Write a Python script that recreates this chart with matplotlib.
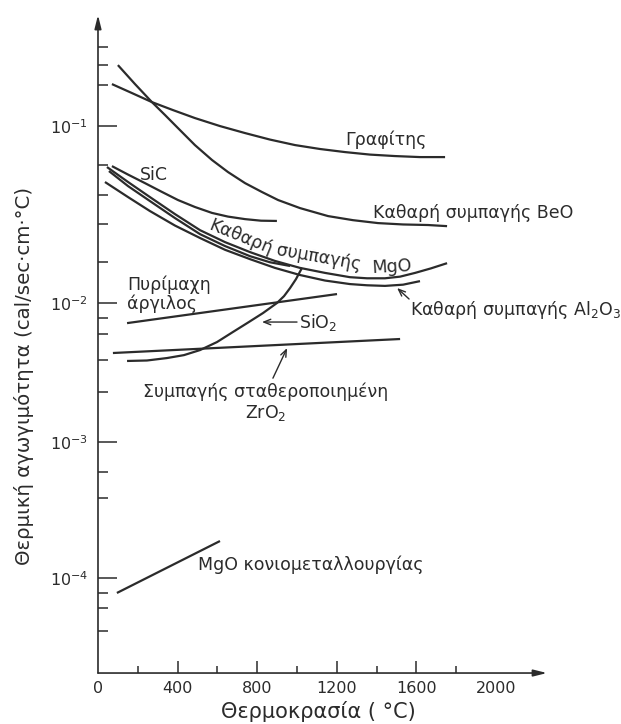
import numpy as np
import matplotlib
matplotlib.use("Agg")
import matplotlib.pyplot as plt
from matplotlib.ticker import NullFormatter

plt.rcParams["font.family"] = ["DejaVu Sans"]
plt.rcParams["mathtext.fontset"] = "dejavusans"

INK = "#2b2b2b"

# θερμοκρασία (°C) / θερμική αγωγιμότητα (cal/sec·cm·°C)
graphite_t = [70, 171, 271, 377, 487, 613, 739, 864, 990, 1116, 1241, 1367, 1492, 1618, 1744]
graphite_k = [0.1727, 0.1536, 0.1366, 0.1231, 0.111, 0.1, 0.0913, 0.0839, 0.0781,
              0.0742, 0.0713, 0.069, 0.0677, 0.0668, 0.0668]

beo_t = [100, 186, 271, 337, 402, 487, 573, 653, 739, 824, 905, 1015, 1156, 1281,
         1407, 1533, 1658, 1754]
beo_k = [0.2211, 0.1727, 0.1366, 0.1154, 0.0974, 0.0781, 0.0643, 0.055, 0.0476,
         0.0424, 0.0382, 0.0344, 0.031, 0.0294, 0.0283, 0.0278, 0.0276, 0.0272]

sic_t = [70, 151, 236, 317, 402, 487, 573, 653, 739, 819, 899]
sic_k = [0.0594, 0.0532, 0.0476, 0.0427, 0.0382, 0.0349, 0.0323, 0.0308, 0.0298,
         0.0292, 0.0291]

mgo_t = [45, 151, 261, 387, 513, 638, 764, 889, 1015, 1141, 1266, 1352, 1442, 1518,
         1593, 1673, 1754]
mgo_k = [0.0587, 0.0483, 0.0397, 0.0318, 0.0258, 0.0221, 0.0194, 0.0173, 0.0158,
         0.0148, 0.014, 0.0138, 0.0138, 0.0141, 0.0148, 0.0157, 0.0168]

# second trace running alongside MgO until it joins it
mgo2_t = [55, 151, 261, 387, 513, 638, 764, 864, 965]
mgo2_k = [0.0557, 0.0458, 0.0377, 0.0302, 0.0245, 0.021, 0.0184, 0.017, 0.0162]

al2o3_t = [35, 151, 261, 387, 513, 638, 764, 889, 1015, 1141, 1266, 1352, 1442,
           1533, 1618]
al2o3_k = [0.0483, 0.0397, 0.0331, 0.0274, 0.0233, 0.02, 0.0177, 0.0158, 0.0144,
           0.0134, 0.0128, 0.0126, 0.0125, 0.0127, 0.0133]

fireclay_t = [146, 1201]
fireclay_k = [0.00717, 0.01124]

sio2_t = [146, 246, 347, 432, 513, 598, 678, 754, 829, 899, 935, 965, 995, 1025]
sio2_k = [0.00383, 0.00386, 0.00402, 0.00422, 0.00459, 0.00524, 0.00619, 0.00724,
          0.00847, 0.01, 0.01095, 0.01215, 0.01366, 0.0158]

zro2_t = [75, 1518]
zro2_k = [0.00437, 0.00551]

mgo_powder_t = [95, 613]
mgo_powder_k = [7.76e-5, 1.87e-4]

x_major = [0, 400, 800, 1200, 1600, 2000]
x_minor = [200, 600, 1000, 1400, 1800]
y_major = [1e-4, 1e-3, 1e-2, 1e-1]
y_major_labels = [r"$10^{-4}$", r"$10^{-3}$", r"$10^{-2}$", r"$10^{-1}$"]
y_minor = [4.1e-5, 6e-5, 7.8e-5, 3.9e-4, 6e-4, 0.0023, 0.0039, 0.006, 0.0078,
           0.017, 0.028, 0.041, 0.06, 0.17, 0.22, 0.28]

# the printed decades are not equally long: map log10 onto them piecewise
DECADE_LOG = [-5, -4, -3, -2, -1, 0]
DECADE_POS = [-136, 0, 136, 275, 452, 629]


def fwd(y):
    return np.interp(np.log10(np.clip(y, 1e-12, None)), DECADE_LOG, DECADE_POS)


def inv(h):
    return 10.0 ** np.interp(h, DECADE_POS, DECADE_LOG)


fig = plt.figure(figsize=(6.21, 7.24), dpi=100)
ax = fig.add_axes([0.1578, 0.0704, 0.7230, 0.9088])
ax.set_yscale("function", functions=(fwd, inv))
ax.set_xlim(0, 2256)
ax.set_ylim(2.0e-5, 0.424)

lw = 1.6
for t, k in [(graphite_t, graphite_k), (beo_t, beo_k), (sic_t, sic_k),
             (mgo_t, mgo_k), (mgo2_t, mgo2_k), (al2o3_t, al2o3_k),
             (fireclay_t, fireclay_k), (sio2_t, sio2_k), (zro2_t, zro2_k),
             (mgo_powder_t, mgo_powder_k)]:
    ax.plot(t, k, color=INK, lw=lw, solid_capstyle="butt", solid_joinstyle="round")

# axes with arrow heads
for spine in ax.spines.values():
    spine.set_visible(False)
arrow = dict(arrowstyle="-|>,head_length=0.8,head_width=0.2", lw=1.2,
             color=INK, shrinkA=0, shrinkB=0)
ax.annotate("", xy=(1, 0), xytext=(0, 0), xycoords="axes fraction",
            arrowprops=arrow, annotation_clip=False)
ax.annotate("", xy=(0, 1), xytext=(0, 0), xycoords="axes fraction",
            arrowprops=arrow, annotation_clip=False)

ax.set_xticks(x_major)
ax.set_xticks(x_minor, minor=True)
ax.set_xticklabels([str(v) for v in x_major])
ax.set_yticks(y_major)
ax.set_yticklabels(y_major_labels)
ax.set_yticks(y_minor, minor=True)
ax.yaxis.set_minor_formatter(NullFormatter())
ax.tick_params(axis="x", which="major", direction="in", length=9, width=1.1,
               pad=6, labelsize=11.5, colors=INK)
ax.tick_params(axis="x", which="minor", direction="in", length=4.8, width=1.1, colors=INK)
ax.tick_params(axis="y", which="major", direction="in", length=13.5, width=1.1,
               pad=7, labelsize=11.5, colors=INK)
ax.tick_params(axis="y", which="minor", direction="in", length=7, width=1.1, colors=INK)
xt = ax.xaxis.get_major_ticks()
xt[0].tick1line.set_visible(False)
xt[-1].tick1line.set_visible(False)

ax.set_xlabel("Θερμοκρασία ( °C)", fontsize=15, color=INK)
ax.xaxis.set_label_coords(0.49, -0.042)
ax.set_ylabel("Θερμική αγωγιμότητα (cal/sec·cm·°C)", fontsize=14.2, color=INK)
ax.yaxis.set_label_coords(-0.142, 0.451)

fs = 12.5
ax.text(1241, 0.0834, "Γραφίτης", fontsize=fs, color=INK, va="center")
ax.text(1382, 0.0322, "Καθαρή συμπαγής BeO", fontsize=fs, color=INK, va="center")
ax.text(211, 0.0528, "SiC", fontsize=fs, color=INK, va="center")
ax.text(719, 0.0236, "Καθαρή", fontsize=fs, color=INK, ha="center", va="center",
        rotation=-22, rotation_mode="anchor")
ax.text(1111, 0.0181, "συμπαγής", fontsize=fs, color=INK, ha="center", va="center",
        rotation=-10, rotation_mode="anchor")
ax.text(1477, 0.0159, "MgO", fontsize=fs, color=INK, ha="center", va="center",
        rotation=3, rotation_mode="anchor")
ax.text(146, 0.01265, "Πυρίμαχη", fontsize=fs, color=INK, va="center")
ax.text(146, 0.00984, "άργιλος", fontsize=fs, color=INK, va="center")

pointer = dict(arrowstyle="->,head_length=0.5,head_width=0.2", lw=1.0, color=INK,
               shrinkA=0, shrinkB=0)
ax.annotate("", xy=(824, 0.0073), xytext=(1000, 0.0073), arrowprops=pointer)
ax.text(1010, 0.0073, "SiO$_2$", fontsize=fs, color=INK, va="center")

ax.annotate("", xy=(950, 0.00474), xytext=(879, 0.00288), arrowprops=pointer)
ax.text(844, 0.00229, "Συμπαγής σταθεροποιημένη", fontsize=fs, color=INK,
        ha="center", va="center")
ax.text(844, 0.00162, "ZrO$_2$", fontsize=fs, color=INK, ha="center", va="center")

ax.annotate("", xy=(1503, 0.01216), xytext=(1563, 0.01054), arrowprops=pointer)
ax.text(1568, 0.0089, "Καθαρή συμπαγής Al$_2$O$_3$", fontsize=fs, color=INK, va="center")

ax.text(503, 1.25e-4, "MgO κονιομεταλλουργίας", fontsize=fs, color=INK, va="center")

fig.savefig("out.png", dpi=100)
